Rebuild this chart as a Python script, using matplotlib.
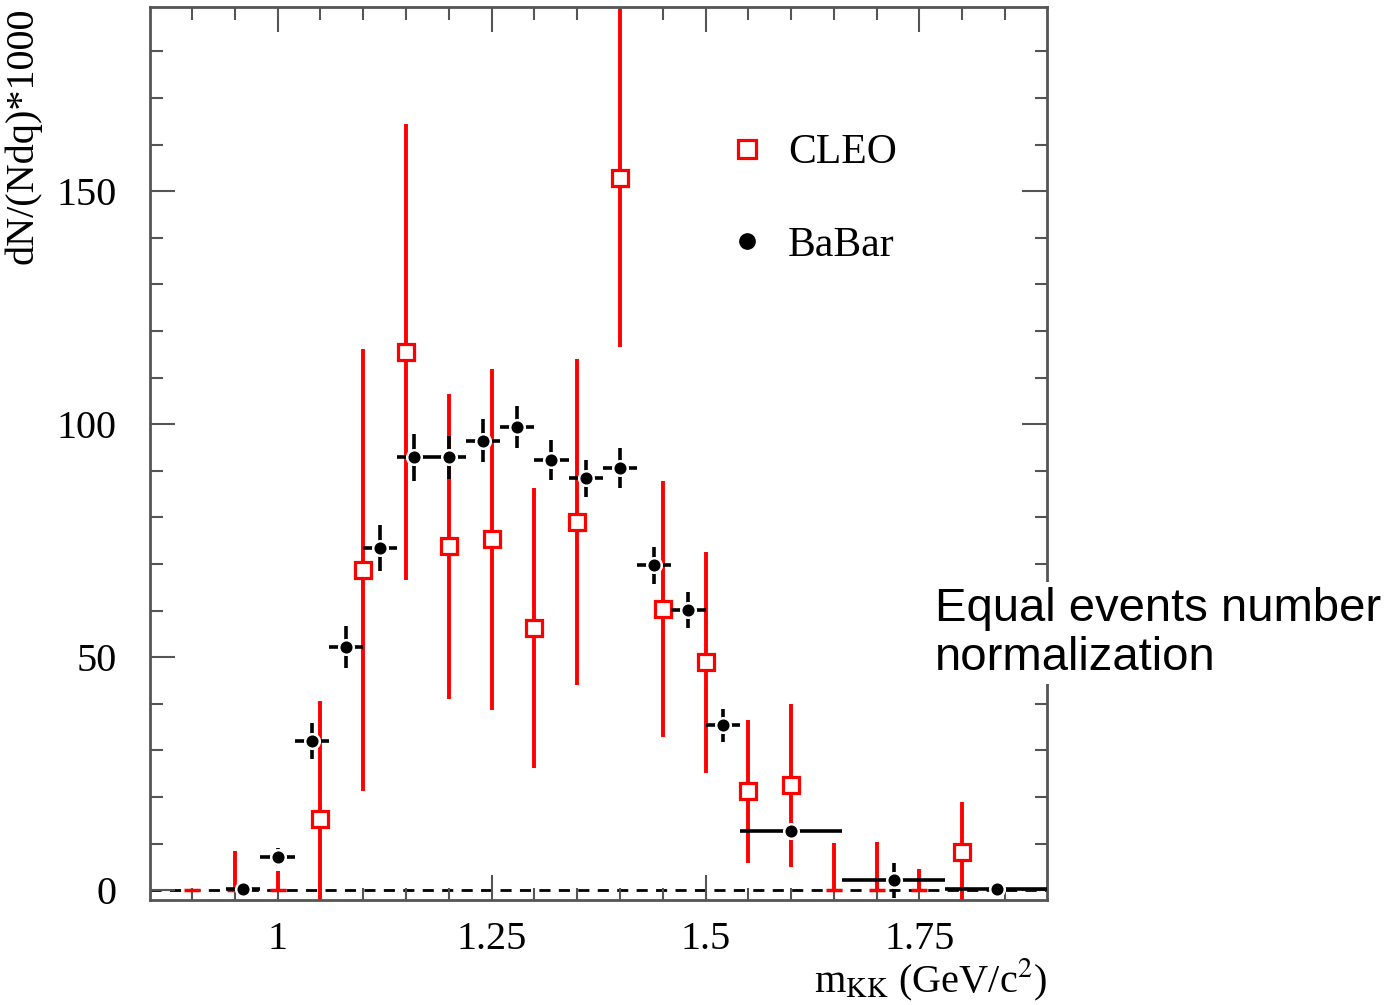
import numpy as np
import matplotlib.pyplot as plt
from matplotlib.lines import Line2D
from matplotlib.ticker import MultipleLocator

plt.rcParams['font.family'] = ['Liberation Serif', 'DejaVu Serif']
plt.rcParams['mathtext.fontset'] = 'stix'

# CLEO (червоні квадрати), біни по 0.05
cleo_x = [0.90, 0.95, 1.00, 1.05, 1.10, 1.15, 1.20, 1.25, 1.30, 1.35, 1.40,
          1.45, 1.50, 1.55, 1.60, 1.65, 1.70, 1.75, 1.80]
cleo_y = [0, 0, 0, 15.2, 68.7, 115.5, 73.8, 75.3, 56.2, 79.0, 152.8,
          60.3, 48.9, 21.2, 22.5, 0, 0, 0, 8.2]
cleo_err_lo = [0, 0, 0, 25.4, 47.4, 49.0, 32.7, 36.6, 30.0, 35.0, 36.3,
               27.5, 23.7, 15.3, 17.5, 0, 0, 0, 10.7]
cleo_err_hi = [0, 8.4, 4.1, 25.4, 47.4, 49.0, 32.7, 36.6, 30.0, 35.0, 36.3,
               27.5, 23.7, 15.3, 17.5, 10.1, 10.3, 4.5, 10.7]

# BaBar (чорні точки)
babar_x = [0.96, 1.00, 1.04, 1.08, 1.12, 1.16, 1.20, 1.24, 1.28, 1.32, 1.36,
           1.40, 1.44, 1.48, 1.52, 1.60, 1.72, 1.84]
babar_y = [0.3, 7.1, 32.0, 52.1, 73.4, 92.9, 92.9, 96.4, 99.4, 92.3, 88.4,
           90.6, 69.7, 60.1, 35.4, 12.7, 2.1, 0.2]
babar_xerr = [0.02] * 15 + [0.06, 0.06, 0.06]
babar_yerr = [0.8, 2.0, 3.9, 4.5, 5.0, 5.0, 4.6, 4.6, 4.5, 4.3, 4.0,
              4.2, 4.0, 3.8, 3.5, 0.5, 3.7, 0.3]

fig = plt.figure(figsize=(13.94, 10.05), dpi=100)
ax = fig.add_axes([0.1076, 0.1045, 0.6435, 0.8885])

red = '#ff0000'
cx = np.array(cleo_x)
cy = np.array(cleo_y)
zero = cy == 0

ax.axhline(0, color='black', lw=2, ls=(0, (4, 3)), zorder=1)

# CLEO
ax.errorbar(cx, cy, yerr=[cleo_err_lo, cleo_err_hi], fmt='none',
            ecolor=red, elinewidth=2.8, capsize=0, zorder=2)
ax.plot(cx[~zero], cy[~zero], 's', ms=12, mfc='white', mec=red, mew=2.3,
        ls='none', zorder=3)
ax.plot(cx[zero], cy[zero], '_', ms=12, mec=red, mew=2.5, ls='none', zorder=3)

# BaBar
ax.errorbar(babar_x, babar_y, xerr=babar_xerr, yerr=babar_yerr, fmt='none',
            ecolor='black', elinewidth=2.6, capsize=0, zorder=4)
ax.plot(babar_x, babar_y, 'o', ms=10.5, mfc='black', mec='white', mew=1.8,
        ls='none', zorder=5)

ax.set_xlim(0.851, 1.899)
ax.set_ylim(-2.1, 189.5)

ax.xaxis.set_major_locator(MultipleLocator(0.25))
ax.xaxis.set_minor_locator(MultipleLocator(0.05))
ax.yaxis.set_major_locator(MultipleLocator(50))
ax.yaxis.set_minor_locator(MultipleLocator(10))
ax.set_xticks([1, 1.25, 1.5, 1.75])
ax.set_xticklabels(['1', '1.25', '1.5', '1.75'])
ax.set_yticks([0, 50, 100, 150])

ax.tick_params(which='both', direction='in', top=True, right=True,
               labelsize=29, color='#555555', width=1.5)
ax.tick_params(which='major', length=18)
ax.tick_params(which='minor', length=9)
ax.tick_params(axis='x', which='major', pad=15)
ax.tick_params(axis='y', which='major', pad=24)
for s in ax.spines.values():
    s.set_color('#555555')
    s.set_linewidth(2)

ax.set_ylabel('dN/(Ndq)*1000', fontsize=29, loc='top')
ax.yaxis.set_label_coords(-0.121, 1.0)
ax.set_xlabel(r'm$_{\mathrm{KK}}$ (GeV/c$^{2}$)', fontsize=29, loc='right')
ax.xaxis.set_label_coords(1.0, -0.064)

handles = [
    Line2D([], [], marker='s', ms=13, mfc='white', mec=red, mew=2.3, ls='none'),
    Line2D([], [], marker='o', ms=11, mfc='black', mec='black', ls='none'),
]
ax.legend(handles, ['CLEO', 'BaBar'], loc='upper left',
          bbox_to_anchor=(0.6, 0.9), frameon=False, fontsize=30,
          labelspacing=1.3, handletextpad=0.5, handlelength=1.0)

fig.text(0.671, 0.370, 'Equal events number\nnormalization',
         fontsize=34, family=['Liberation Sans', 'DejaVu Sans'],
         ha='left', va='center', linespacing=1.15,
         bbox=dict(facecolor='white', edgecolor='none', pad=3))

fig.savefig('out.png', dpi=100)
